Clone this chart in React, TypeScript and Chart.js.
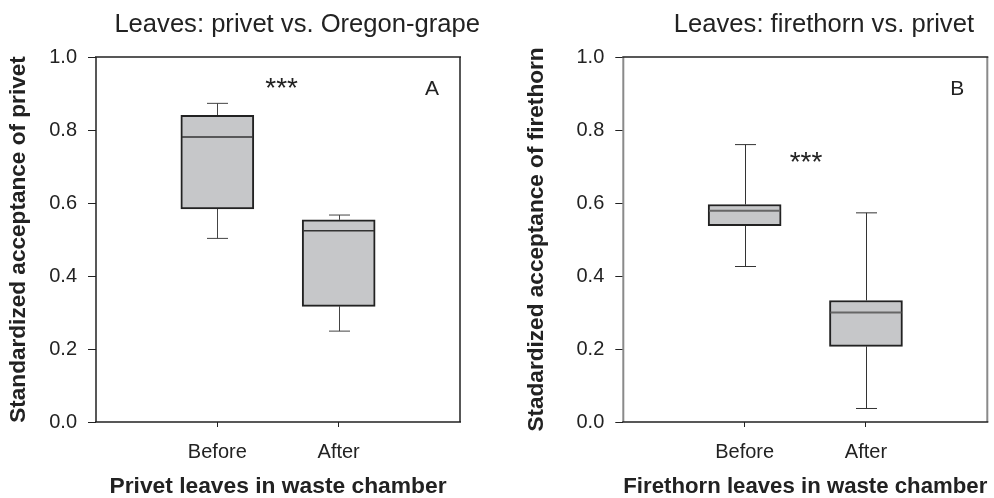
import React, { useEffect, useRef } from 'react';
import { Chart, registerables } from 'chart.js';

Chart.register(...registerables);

const FONT = '"Liberation Sans", Arial, Helvetica, sans-serif';

const categories = ['Before', 'After'];
const yTickValues = [0, 0.2, 0.4, 0.6, 0.8, 1.0];

// Panel A: privet
const titleA = 'Leaves: privet vs. Oregon-grape';
const yTitleA = 'Standardized acceptance of privet';
const xTitleA = 'Privet leaves in waste chamber';
const minA = [0.503, 0.249];
const q1A = [0.584, 0.317];
const medA = [0.781, 0.524];
const q3A = [0.84, 0.554];
const maxA = [0.873, 0.567];
const starsA = { x: 1.53, y: 0.89, text: '***' };
const letterA = { x: 2.77, y: 0.897, text: 'A' };

// Panel B: firethorn
const titleB = 'Leaves: firethorn vs. privet';
const yTitleB = 'Stadardized acceptance of firethorn';
const xTitleB = 'Firethorn leaves in waste chamber';
const minB = [0.426, 0.037];
const q1B = [0.538, 0.207];
const medB = [0.579, 0.3];
const q3B = [0.596, 0.333];
const maxB = [0.76, 0.573];
const starsB = { x: 1.506, y: 0.687, text: '***' };
const letterB = { x: 2.753, y: 0.897, text: 'B' };

type Panel = {
  title: string;
  titleRight: number;
  yTitle: string;
  xTitle: string;
  mins: number[];
  q1: number[];
  med: number[];
  q3: number[];
  maxs: number[];
  stars: { x: number; y: number; text: string };
  letter: { x: number; y: number; text: string };
  yAxisWidth: number;
  yTitleOffset: number;
  padRight: number;
  sideColor: string;
  sideWidth: number;
  medianColor: string;
  medianWidth: number;
  whiskerColor: string;
};

const panels: Panel[] = [
  {
    title: titleA, titleRight: 480, yTitle: yTitleA, xTitle: xTitleA,
    mins: minA, q1: q1A, med: medA, q3: q3A, maxs: maxA,
    stars: starsA, letter: letterA,
    yAxisWidth: 96, yTitleOffset: 7.5, padRight: 37,
    sideColor: '#222222', sideWidth: 1.5,
    medianColor: '#333333', medianWidth: 1.5, whiskerColor: '#444444',
  },
  {
    title: titleB, titleRight: 477, yTitle: yTitleB, xTitle: xTitleB,
    mins: minB, q1: q1B, med: medB, q3: q3B, maxs: maxB,
    stars: starsB, letter: letterB,
    yAxisWidth: 126.3, yTitleOffset: 28.5, padRight: 6.7,
    sideColor: '#8a8a8a', sideWidth: 2,
    medianColor: '#666666', medianWidth: 2, whiskerColor: '#333333',
  },
];

function makePlugin(p: Panel) {
  const capW = 21;
  return {
    id: 'boxextras',
    beforeDatasetsDraw(chart: any) {
      const { ctx, scales } = chart;
      const x = scales.x, y = scales.y;
      ctx.save();
      ctx.strokeStyle = p.whiskerColor;
      ctx.lineWidth = 1;
      p.mins.forEach((mn, i) => {
        const px = Math.round(x.getPixelForValue(i + 1)) + 0.5;
        const yMin = y.getPixelForValue(mn);
        const yQ1 = y.getPixelForValue(p.q1[i]);
        const yQ3 = y.getPixelForValue(p.q3[i]);
        const yMax = y.getPixelForValue(p.maxs[i]);
        ctx.beginPath();
        ctx.moveTo(px, yQ3); ctx.lineTo(px, yMax);
        ctx.moveTo(px - capW / 2, yMax); ctx.lineTo(px + capW / 2, yMax);
        ctx.moveTo(px, yQ1); ctx.lineTo(px, yMin);
        ctx.moveTo(px - capW / 2, yMin); ctx.lineTo(px + capW / 2, yMin);
        ctx.stroke();
      });
      ctx.restore();
    },
    afterDatasetsDraw(chart: any) {
      const { ctx, scales } = chart;
      const x = scales.x, y = scales.y;
      const meta = chart.getDatasetMeta(0);
      ctx.save();
      ctx.strokeStyle = p.medianColor;
      ctx.lineWidth = p.medianWidth;
      p.med.forEach((m, i) => {
        const bar = meta.data[i];
        const half = bar.width / 2;
        const px = bar.x;
        const ym = y.getPixelForValue(m);
        ctx.beginPath();
        ctx.moveTo(px - half + 1, ym); ctx.lineTo(px + half - 1, ym);
        ctx.stroke();
      });
      ctx.fillStyle = '#222222';
      ctx.textAlign = 'center';
      ctx.textBaseline = 'alphabetic';
      ctx.font = `28px ${FONT}`;
      ctx.fillText(p.stars.text, x.getPixelForValue(p.stars.x), y.getPixelForValue(p.stars.y));
      ctx.font = `21px ${FONT}`;
      ctx.fillText(p.letter.text, x.getPixelForValue(p.letter.x), y.getPixelForValue(p.letter.y));
      ctx.restore();
    },
    afterDraw(chart: any) {
      const { ctx, chartArea } = chart;
      const { left, right, top, bottom } = chartArea;
      ctx.save();
      ctx.lineWidth = p.sideWidth;
      ctx.strokeStyle = p.sideColor;
      ctx.beginPath();
      ctx.moveTo(left, top); ctx.lineTo(left, bottom);
      ctx.moveTo(right, top); ctx.lineTo(right, bottom);
      ctx.stroke();
      ctx.lineWidth = 1.5;
      ctx.strokeStyle = '#222222';
      ctx.beginPath();
      ctx.moveTo(left - 1, top); ctx.lineTo(right + 1, top);
      ctx.moveTo(left - 1, bottom); ctx.lineTo(right + 1, bottom);
      ctx.stroke();
      ctx.fillStyle = '#222222';
      ctx.font = `25.6px ${FONT}`;
      ctx.textAlign = 'right';
      ctx.textBaseline = 'alphabetic';
      ctx.fillText(p.title, p.titleRight, 32);
      ctx.restore();
    },
  };
}

function buildChart(canvas: HTMLCanvasElement, p: Panel) {
  return new Chart(canvas, {
    type: 'bar',
    data: {
      datasets: [
        {
          data: categories.map((c, i) => ({ x: i + 1, y: [p.q1[i], p.q3[i]] })) as any,
          backgroundColor: '#c6c7c9',
          borderColor: '#222222',
          borderWidth: 2,
          borderSkipped: false,
          barThickness: 73,
          grouped: false,
        } as any,
      ],
    },
    options: {
      responsive: false,
      animation: false,
      events: [],
      layout: { padding: { top: 57, left: 0, right: p.padRight, bottom: 0 } },
      plugins: {
        legend: { display: false },
        tooltip: { enabled: false },
        title: { display: false },
      },
      scales: {
        x: {
          type: 'linear',
          min: 0,
          max: 3,
          offset: false,
          afterBuildTicks: (scale: any) => {
            scale.ticks = categories.map((_, i) => ({ value: i + 1 }));
          },
          afterFit: (scale: any) => {
            scale.height = 76;
          },
          ticks: {
            callback: (v: any) => categories[Number(v) - 1] ?? '',
            color: '#222222',
            font: { family: FONT, size: 20 },
            padding: 13,
            maxRotation: 0,
            autoSkip: false,
          },
          grid: {
            offset: false,
            drawOnChartArea: false,
            drawTicks: true,
            tickLength: 5,
            tickColor: '#222222',
            lineWidth: 1,
          },
          border: { display: false },
          title: {
            display: true,
            text: p.xTitle,
            color: '#222222',
            font: { family: FONT, size: 22.8, weight: 'bold', lineHeight: 1 },
            padding: { top: 0, bottom: 0 },
          },
        },
        y: {
          type: 'linear',
          min: 0,
          max: 1,
          afterBuildTicks: (scale: any) => {
            scale.ticks = yTickValues.map((v) => ({ value: v }));
          },
          afterFit: (scale: any) => {
            scale.width = p.yAxisWidth;
          },
          ticks: {
            callback: (v: any) => Number(v).toFixed(1),
            color: '#222222',
            font: { family: FONT, size: 20 },
            padding: 11,
          },
          grid: {
            drawOnChartArea: false,
            drawTicks: true,
            tickLength: 8,
            tickColor: '#222222',
            lineWidth: 1,
          },
          border: { display: false },
          title: {
            display: true,
            text: p.yTitle,
            color: '#222222',
            font: { family: FONT, size: 22.6, weight: 'bold', lineHeight: 1 },
            padding: { top: p.yTitleOffset, bottom: 0 },
          },
        },
      },
    },
    plugins: [makePlugin(p)],
  } as any);
}

function PanelChart({ p, left }: { p: Panel; left: number }) {
  const ref = useRef<HTMLCanvasElement | null>(null);
  useEffect(() => {
    if (!ref.current) return;
    const chart = buildChart(ref.current, p);
    return () => chart.destroy();
  }, [p]);
  return (
    <div style={{ position: 'absolute', left, top: 0, width: 497, height: 498 }}>
      <canvas ref={ref} width={497} height={498} style={{ display: 'block', width: 497, height: 498 }} />
    </div>
  );
}

export default function App() {
  return (
    <div style={{ position: 'fixed', left: 0, top: 0, width: 994, height: 498, background: '#ffffff', overflow: 'hidden' }}>
      <PanelChart p={panels[0]} left={0} />
      <PanelChart p={panels[1]} left={497} />
    </div>
  );
}
